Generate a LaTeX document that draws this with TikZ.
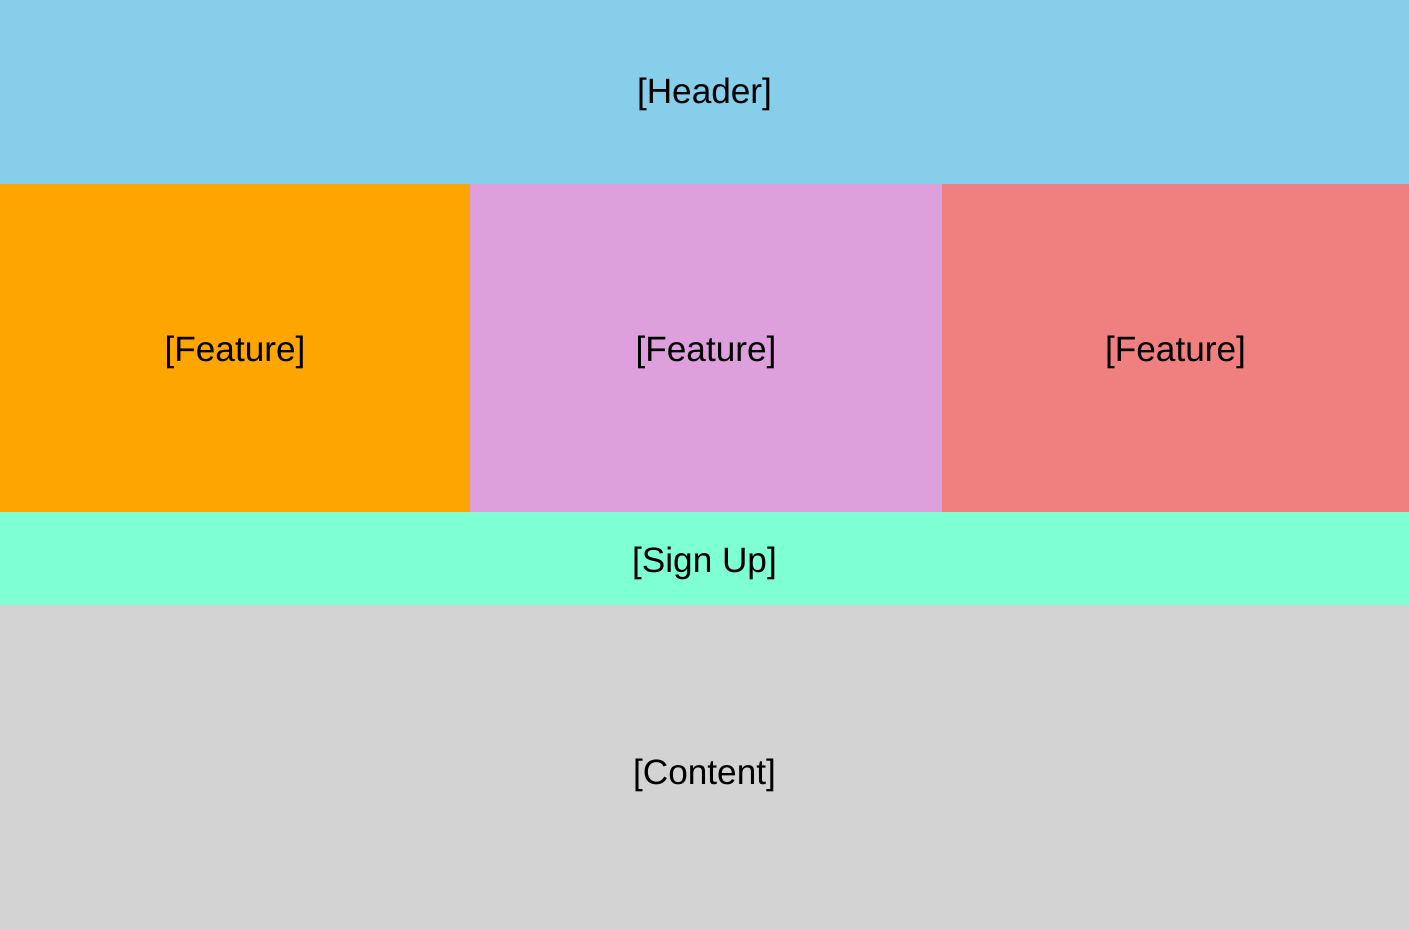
\documentclass[tikz,border=0pt]{standalone}
\usepackage{fontspec}
\setmainfont{Liberation Sans}
\usetikzlibrary{positioning}
\definecolor{skyblue}{HTML}{87CEEB}
\definecolor{orangeA}{HTML}{FFA500}
\definecolor{plum}{HTML}{DDA0DD}
\definecolor{lightcoral}{HTML}{F08080}
\definecolor{aquamarine}{HTML}{7FFFD4}
\definecolor{lightgray}{HTML}{D3D3D3}

\begin{document}
\begin{tikzpicture}[block/.style={rectangle,draw=none,inner sep=0pt,outer sep=0pt,
        text height=17.5pt,text depth=3.8pt,font=\fontsize{17.6pt}{20pt}\selectfont}]
    \useasboundingbox (0,0) rectangle (704.5pt,-464.5pt);

        \node[block,fill=skyblue,minimum width=704.5pt,minimum height=92pt,anchor=north west,text height=15.5pt] (Header) at (0,0) {[Header]};
        \node[block,fill=orangeA,minimum width=235pt,minimum height=164pt,below=0pt of Header.south west,anchor=north west] (FeatA) {[Feature]};
        \node[block,fill=plum,minimum width=236pt,minimum height=164pt,right=0pt of FeatA] (FeatB) {[Feature]};
        \node[block,fill=lightcoral,minimum width=233.5pt,minimum height=164pt,right=0pt of FeatB] (FeatC) {[Feature]};
        \node[block,fill=aquamarine,minimum width=704.5pt,minimum height=46.5pt,below=0pt of FeatA.south west,anchor=north west] (SignUp) {[Sign Up]};
        \node[block,fill=lightgray,minimum width=704.5pt,minimum height=162pt,below=0pt of SignUp.south west,anchor=north west,text height=21.5pt] (Content) {[Content]};
        \end{tikzpicture}
\end{document}
